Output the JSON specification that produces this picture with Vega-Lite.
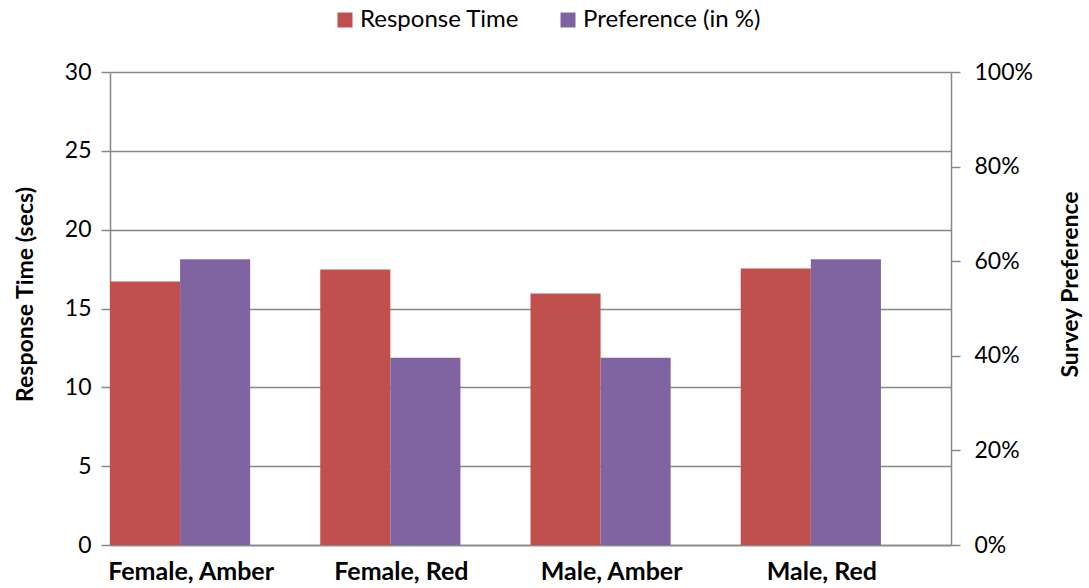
{
  "$schema": "https://vega.github.io/schema/vega-lite/v6.json",
  "autosize": "none",
  "width": 841,
  "height": 473,
  "padding": {"left": 110, "top": 72, "right": 138, "bottom": 43},
  "background": "white",
  "config": {
    "font": "Lato",
    "view": {"stroke": null},
    "axis": {
      "labelColor": "#000000",
      "titleColor": "#000000",
      "domainColor": "#888888",
      "tickColor": "#888888",
      "gridColor": "#888888",
      "domainWidth": 1.5,
      "tickWidth": 1.5,
      "gridWidth": 1.3,
      "labelFontSize": 23,
      "titleFontSize": 23,
      "titleFontWeight": "bold"
    }
  },
  "data": {
    "values": [
      {"group": "Female, Amber", "series": "Response Time", "value": 16.71},
      {"group": "Female, Amber", "series": "Preference (in %)", "value": 0.604},
      {"group": "Female, Red", "series": "Response Time", "value": 17.47},
      {"group": "Female, Red", "series": "Preference (in %)", "value": 0.396},
      {"group": "Male, Amber", "series": "Response Time", "value": 15.95},
      {"group": "Male, Amber", "series": "Preference (in %)", "value": 0.396},
      {"group": "Male, Red", "series": "Response Time", "value": 17.53},
      {"group": "Male, Red", "series": "Preference (in %)", "value": 0.604}
    ]
  },
  "encoding": {
    "x": {
      "field": "group",
      "type": "nominal",
      "sort": null,
      "scale": {"paddingInner": 0, "paddingOuter": 0},
      "axis": {
        "title": null,
        "labelAngle": 0,
        "ticks": false,
        "labelFontWeight": "bold",
        "labelFontSize": 25,
        "labelPadding": 14,
        "labelOffset": -24,
        "domainColor": "#888888"
      }
    },
    "xOffset": {
      "field": "series",
      "type": "nominal",
      "scale": {"domain": ["Response Time", "Preference (in %)", "none"], "paddingInner": 0, "paddingOuter": 0}
    },
    "color": {
      "field": "series",
      "type": "nominal",
      "scale": {"domain": ["Response Time", "Preference (in %)"], "range": ["#C0504D", "#8064A2"]},
      "legend": {
        "title": null,
        "orient": "none",
        "direction": "horizontal",
        "legendX": 223,
        "legendY": -64,
        "symbolType": "square",
        "symbolSize": 225,
        "symbolStrokeWidth": 0,
        "symbolOpacity": 1,
        "labelFontSize": 24,
        "labelLimit": 400,
        "labelColor": "#000000",
        "labelOffset": 3,
        "columnPadding": 36
      }
    }
  },
  "layer": [
    {
      "transform": [{"filter": "datum.series === 'Response Time'"}],
      "mark": {"type": "bar", "opacity": 1},
      "encoding": {
        "y": {
          "field": "value",
          "type": "quantitative",
          "scale": {"domain": [0, 30], "nice": false},
          "axis": {
            "title": "Response Time (secs)",
            "values": [0, 5, 10, 15, 20, 25, 30],
            "tickSize": 9,
            "labelPadding": 10,
            "titlePadding": 27,
            "titleY": 222,
            "grid": true
          }
        }
      }
    },
    {
      "transform": [{"filter": "datum.series === 'Preference (in %)'"}],
      "mark": {"type": "bar", "opacity": 1},
      "encoding": {
        "y": {
          "field": "value",
          "type": "quantitative",
          "scale": {"domain": [0, 1], "nice": false},
          "axis": {
            "orient": "right",
            "title": "Survey Preference",
            "format": ".0%",
            "values": [0, 0.2, 0.4, 0.6, 0.8, 1],
            "tickSize": 9,
            "labelPadding": 14,
            "titlePadding": 50,
            "titleAngle": 270,
            "titleY": 212,
            "grid": false
          }
        }
      }
    }
  ],
  "resolve": {"scale": {"y": "independent"}}
}
